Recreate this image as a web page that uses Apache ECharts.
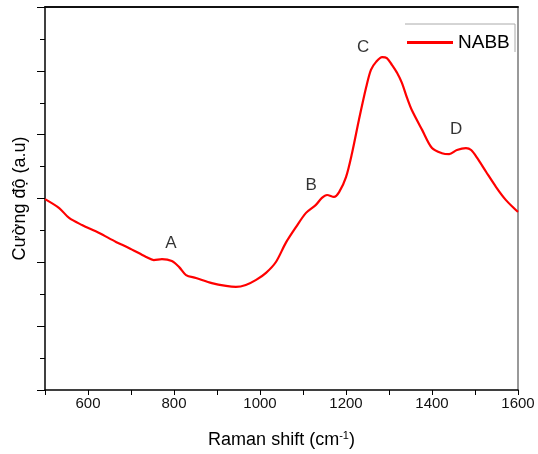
<!DOCTYPE html>
<html>
<head>
<meta charset="utf-8">
<script src="https://cdn.jsdelivr.net/npm/echarts@6/dist/echarts.min.js"></script>
<style>html,body{margin:0;padding:0;background:#fff}#c{width:538px;height:454px}</style>
</head>
<body>
<div id="c"></div>
<script>
const ramanShift = [500, 533, 556, 586, 626, 665, 695, 735, 753, 772, 795, 812, 828, 851, 888, 921, 944, 967, 991, 1014, 1037, 1060, 1084, 1107, 1130, 1144, 1156, 1172, 1184, 1200, 1214, 1230, 1247, 1258, 1270, 1284, 1295, 1307, 1319, 1330, 1342, 1353, 1377, 1400, 1423, 1440, 1458, 1479, 1491, 1505, 1526, 1549, 1572, 1595, 1600];
const intensityNABB = [5.98, 5.70, 5.39, 5.17, 4.92, 4.64, 4.45, 4.17, 4.07, 4.10, 4.04, 3.85, 3.60, 3.51, 3.35, 3.26, 3.23, 3.29, 3.45, 3.67, 4.01, 4.61, 5.11, 5.55, 5.80, 6.02, 6.11, 6.05, 6.20, 6.67, 7.42, 8.46, 9.49, 10.03, 10.28, 10.43, 10.40, 10.18, 9.93, 9.62, 9.15, 8.77, 8.15, 7.58, 7.42, 7.39, 7.52, 7.58, 7.52, 7.27, 6.83, 6.36, 5.95, 5.64, 5.58];
const xTickLabels = [600, 800, 1000, 1200, 1400, 1600];
const peakNames = ['A', 'B', 'C', 'D'];
const peakX = [793, 1119, 1240, 1456];
const peakY = [4.6, 6.42, 10.75, 8.18];
const seriesName = 'NABB';

const chart = echarts.init(document.getElementById('c'));
const font = 'Liberation Sans, Arial, sans-serif';
chart.setOption({
  animation: false,
  grid: {left: 45, right: 20, top: 7, bottom: 64},
  legend: {
    data: [{name: seriesName, icon: 'rect'}],
    left: 402, top: 28,
    itemWidth: 46, itemHeight: 3, itemGap: 5,
    textStyle: {fontFamily: font, fontSize: 19, color: '#000', padding: [0, 0, 0, 0]}
  },
  graphic: [{
    type: 'polyline', silent: true,
    shape: {points: [[405, 24], [515, 24], [515, 52]]},
    style: {stroke: '#aaa', lineWidth: 1, fill: null}
  }],
  xAxis: [{
    type: 'value', min: 500, max: 1600, interval: 100,
    name: 'Raman shift (cm{sup|-1})',
    nameLocation: 'middle', nameGap: 40,
    nameTextStyle: {fontFamily: font, fontSize: 18, color: '#000',
      rich: {sup: {fontFamily: font, fontSize: 11, color: '#000', padding: [0, 0, 9, 0]}}},
    axisLine: {onZero: false, lineStyle: {color: '#000', width: 1.5}},
    axisTick: {show: true, length: 5, lineStyle: {color: '#000', width: 1}},
    axisLabel: {fontFamily: font, fontSize: 15, color: '#111', margin: 6,
      formatter: v => xTickLabels.indexOf(v) >= 0 ? String(v) : ''},
    splitLine: {show: false}
  }, {
    type: 'value', position: 'top', min: 500, max: 1600, interval: 100,
    axisLine: {show: true, onZero: false, lineStyle: {color: '#111', width: 1.8}},
    axisTick: {show: false}, axisLabel: {show: false}, splitLine: {show: false}
  }],
  yAxis: [{
    type: 'value', min: 0, max: 12, interval: 2,
    name: 'Cường độ (a.u)', nameLocation: 'middle', nameGap: 16,
    nameTextStyle: {fontFamily: font, fontSize: 18, color: '#000'},
    axisLine: {show: true, onZero: false, lineStyle: {color: '#000', width: 1.5}},
    axisTick: {show: true, length: 8, lineStyle: {color: '#000', width: 1}},
    minorTick: {show: true, splitNumber: 2, length: 5, lineStyle: {color: '#000', width: 1}},
    axisLabel: {show: false},
    splitLine: {show: false}, minorSplitLine: {show: false}
  }, {
    type: 'value', position: 'right', min: 0, max: 12,
    axisLine: {show: true, onZero: false, lineStyle: {color: '#777', width: 1.5}},
    axisTick: {show: false}, axisLabel: {show: false}, splitLine: {show: false}
  }],
  series: [{
    name: seriesName, type: 'line',
    data: ramanShift.map((x, i) => [x, intensityNABB[i]]),
    showSymbol: false, symbol: 'none', smooth: 0.3,
    lineStyle: {color: '#ff0000', width: 2.2},
    itemStyle: {color: '#ff0000'},
    silent: true
  }, {
    name: 'peaks', type: 'scatter',
    data: peakNames.map((n, i) => ({name: n, value: [peakX[i], peakY[i]]})),
    symbolSize: 0, silent: true,
    label: {show: true, position: 'inside', formatter: p => p.name,
      fontFamily: font, fontSize: 17, color: '#000'}
  }]
});
</script>
</body>
</html>
